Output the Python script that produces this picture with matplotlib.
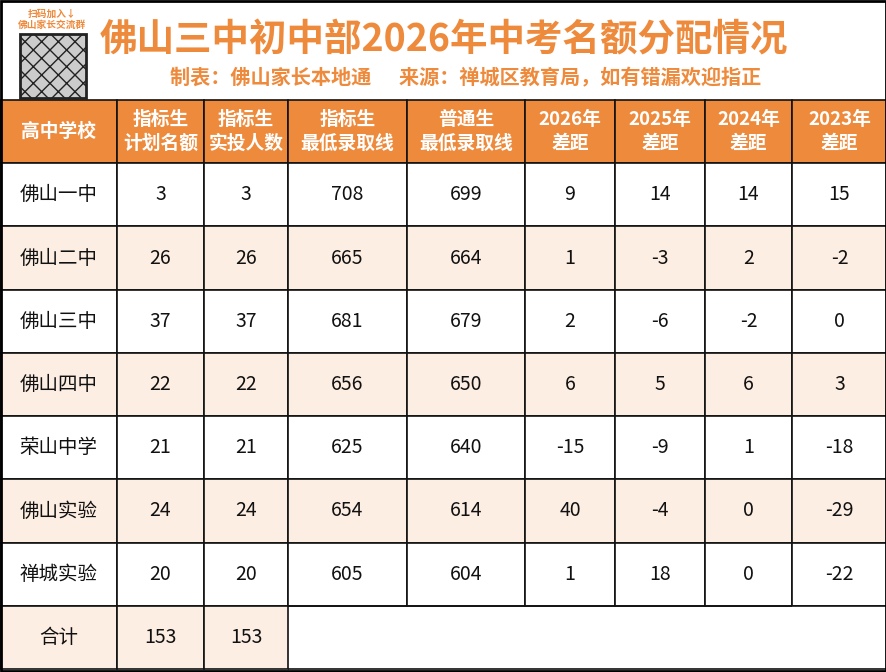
import matplotlib.pyplot as plt
import matplotlib.patches as mpatches

plt.rcParams['font.family'] = ['Noto Sans CJK SC', 'DejaVu Sans']

title = "佛山三中初中部2026年中考名额分配情况"
subtitle = "制表：佛山家长本地通      来源：禅城区教育局，如有错漏欢迎指正"
headers = ["高中学校", "指标生\n计划名额", "指标生\n实投人数", "指标生\n最低录取线", "普通生\n最低录取线",
           "2026年\n差距", "2025年\n差距", "2024年\n差距", "2023年\n差距"]
schools = ["佛山一中", "佛山二中", "佛山三中", "佛山四中", "荣山中学", "佛山实验", "禅城实验"]
plan = [3, 26, 37, 22, 21, 24, 20]
actual = [3, 26, 37, 22, 21, 24, 20]
line_quota = [708, 665, 681, 656, 625, 654, 605]
line_normal = [699, 664, 679, 650, 640, 614, 604]
gap_2026 = [9, 1, 2, 6, -15, 40, 1]
gap_2025 = [14, -3, -6, 5, -9, -4, 18]
gap_2024 = [14, 2, -2, 6, 1, 0, 0]
gap_2023 = [15, -2, 0, 3, -18, -29, -22]
total_row = ["合计", "153", "153"]

orange = "#ee8a3c"
peach = "#fdeee4"
W, H = 887, 672
col_edges = [0, 117, 204, 288, 407, 525, 615, 705, 792, 887]
col_w = [(col_edges[i + 1] - col_edges[i]) / W for i in range(9)]

fig = plt.figure(figsize=(W / 100, H / 100), dpi=100)
ax = fig.add_axes([0, 0, 1, 1])
ax.set_xlim(0, W)
ax.set_ylim(H, 0)
ax.axis('off')

# header area
ax.text(444, 40, title, ha='center', va='center', fontsize=27, fontweight='bold', color=orange)
ax.text(466, 78, subtitle, ha='center', va='center', fontsize=14.5, fontweight='bold', color=orange)
ax.text(52, 19, "扫码加入↓\n佛山家长交流群", ha='center', va='center', fontsize=7,
        fontweight='bold', color=orange, linespacing=1.1)
ax.add_patch(mpatches.Rectangle((20, 34), 66, 64, facecolor='#cccccc', edgecolor='#222222', lw=2, hatch='xx'))

# table
cells = [headers]
for i in range(len(schools)):
    cells.append([schools[i], plan[i], actual[i], line_quota[i], line_normal[i],
                  gap_2026[i], gap_2025[i], gap_2024[i], gap_2023[i]])
cells.append(total_row + [""] * 6)
cells = [[str(c) for c in r] for r in cells]

top, bottom = 100, 669
tab = ax.table(cellText=cells, colWidths=col_w, cellLoc='center',
               bbox=[0, (H - bottom) / H, 1, (bottom - top) / H])
tab.auto_set_font_size(False)
nrows = len(cells)
for (r, c), cell in tab.get_celld().items():
    cell.set_edgecolor('#111111')
    cell.set_linewidth(1.2)
    txt = cell.get_text()
    txt.set_fontsize(14)
    if r == 0:
        cell.set_facecolor(orange)
        txt.set_color('white')
        txt.set_fontweight('bold')
        txt.set_fontsize(13.5)
        txt.set_linespacing(1.3)
    else:
        cell.set_facecolor(peach if r % 2 == 0 else 'white')
        txt.set_color('#111111')
    if r == nrows - 1 and c >= 3:
        cell.set_facecolor('white')
        cell.visible_edges = 'TBR' if c == 8 else 'TB'

ax.add_patch(mpatches.Rectangle((1, 1), W - 2, H - 2, fill=False, edgecolor='black', lw=2))
fig.savefig("out.png", dpi=100)
